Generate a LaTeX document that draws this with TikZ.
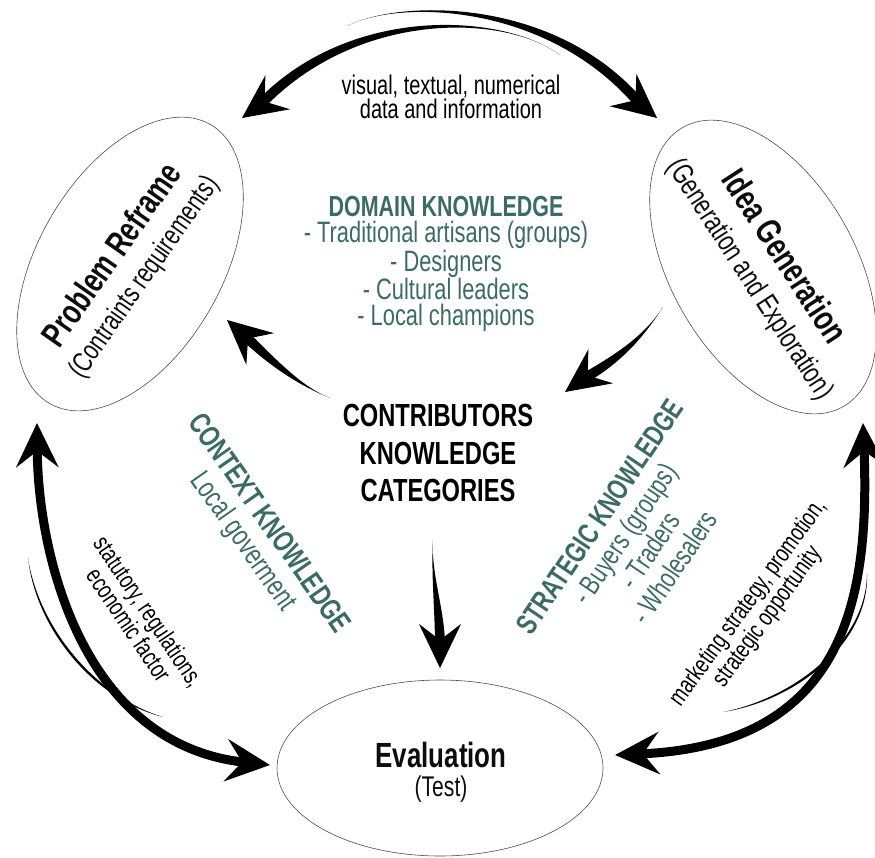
\documentclass[tikz,border=0pt]{standalone}
\usepackage{fontspec}
\setmainfont{Liberation Sans}[FakeStretch=0.74]
\usetikzlibrary{shapes.geometric,arrows.meta,calc}
\definecolor{knowteal}{RGB}{58,107,102}

\tikzset{
  stage/.style={ellipse, draw=black!70, line width=0.6pt, inner sep=0pt},
  stagetext/.style={align=center, text=black!95},
  know/.style={align=center, text=knowteal},
  flowlabel/.style={align=center, font=\fontsize{25}{24}\selectfont},
  headtip/.style={-{Stealth[length=44pt,width=42pt,inset=16pt]}, line width=1pt},
  sidearc/.style={line width=9pt,
    {Stealth[length=44pt,width=42pt,inset=16pt]}-{Stealth[length=44pt,width=42pt,inset=16pt]}}
}

% tapered arrow: tail, two controls, end of body, tip, half width
\newcommand{\swoosh}[6]{%
  \fill (#1) .. controls (#2) and ($(#3)!#6!-90:(#4)$) .. ($(#4)!#6!90:(#3)$)
    -- ($(#4)!#6!-90:(#3)$) .. controls ($(#3)!#6!90:(#4)$) and (#2) .. (#1) -- cycle;
  \draw[headtip] ($(#5)!50pt!(#4)$) -- (#5);
}

\begin{document}
\begin{tikzpicture}[x=1pt, y=-1pt]
  \useasboundingbox (0,0) rectangle (875,857);

  % stages
  \node[stage, minimum width=322pt, minimum height=184pt, rotate=60] (pr) at (130,264) {};
  \node[stage, minimum width=322pt, minimum height=184pt, rotate=-60] (ig) at (763,267) {};
  \node[stage, minimum width=326pt, minimum height=176pt] (ev) at (440,768) {};

  \node[stagetext, rotate=55, font=\fontsize{28.5}{36}\selectfont] (pr-text) at (128,266)
    {{\bfseries\fontsize{35}{36}\selectfont Problem Reframe}\\(Contraints requirements)};
  \node[stagetext, rotate=-57, font=\fontsize{29.5}{38}\selectfont] (ig-text) at (767,268)
    {{\bfseries\fontsize{35.5}{38}\selectfont Idea Generation}\\(Generation and Exploration)};
  \node[stagetext, font=\fontsize{28.5}{29}\selectfont] (ev-text) at (441,772)
    {{\bfseries\fontsize{35}{29}\selectfont Evaluation}\\(Test)};

  % centre
  \node[align=center, font=\bfseries\fontsize{32}{37.5}\selectfont] (contrib) at (438,453)
    {CONTRIBUTORS\\KNOWLEDGE\\CATEGORIES};

  % knowledge groups
  \node[know, font=\fontsize{29.5}{26}\selectfont] (domain) at (446,264)
    {{\bfseries\fontsize{29}{26}\selectfont DOMAIN KNOWLEDGE}\\- Traditional artisans (groups)\\
     - Designers\\- Cultural leaders\\- Local champions};
  \node[know, rotate=-55, font=\fontsize{29.5}{31}\selectfont] (context) at (255,533)
    {{\bfseries\fontsize{30}{31}\selectfont CONTEXT KNOWLEDGE}\\Local goverment};
  \node[know, rotate=56, font=\fontsize{28.5}{30}\selectfont] (strategic) at (637,542)
    {{\bfseries\fontsize{29.5}{30}\selectfont STRATEGIC KNOWLEDGE}\\- Buyers (groups)\\- Traders\\- Wholesalers};

  % flow labels
  \node[flowlabel, font=\fontsize{27}{22.5}\selectfont] (data) at (451,97)
    {visual, textual, numerical\\data and information};
  \node[flowlabel, rotate=-56] (statutory) at (139,618)
    {statutory, regulations,\\economic factor};
  \node[flowlabel, rotate=54] (marketing) at (758,610)
    {marketing strategy, promotion,\\strategic opportunity};

  % arrow ends
  \coordinate (a-tail) at (560,55);  \coordinate (a-end) at (260,105); \coordinate (a-tip) at (242,118);
  \coordinate (b-tail) at (347,26);  \coordinate (b-end) at (640,104); \coordinate (b-tip) at (657,118);
  \coordinate (c-tail) at (663,307); \coordinate (c-end) at (583,379); \coordinate (c-tip) at (565,392);
  \coordinate (d-tail) at (330,398); \coordinate (d-end) at (243,334); \coordinate (d-tip) at (227,320);
  \coordinate (e-tail) at (433,540); \coordinate (e-end) at (440,646); \coordinate (e-tip) at (440,668);

  % data exchange over the top
  \swoosh{a-tail}{505,14}{355,6}{a-end}{a-tip}{5pt}
  \swoosh{b-tail}{400,-1}{552,0}{b-end}{b-tip}{5pt}

  % through the knowledge categories
  \swoosh{c-tail}{645,335}{620,358}{c-end}{c-tip}{5pt}
  \swoosh{d-tail}{300,386}{272,362}{d-end}{d-tip}{5pt}
  \swoosh{e-tail}{431,575}{440,610}{e-end}{e-tip}{5pt}

  % left and right loops
  \coordinate (f-up) at (37,423);  \coordinate (f-right) at (270,765);
  \coordinate (g-up) at (863,423); \coordinate (g-left) at (615,755);
  \draw[sidearc] (f-up) .. controls (38,560) and (85,745) .. (f-right);
  \draw[sidearc] (g-up) .. controls (870,600) and (845,745) .. (g-left);
  \fill (28,558) .. controls (36,630) and (95,700) .. (163,717)
    .. controls (97,697) and (39,629) .. (28,558) -- cycle;
  \fill (867,573) .. controls (870,640) and (800,700) .. (723,712)
    .. controls (798,697) and (867,639) .. (867,573) -- cycle;
\end{tikzpicture}
\end{document}
